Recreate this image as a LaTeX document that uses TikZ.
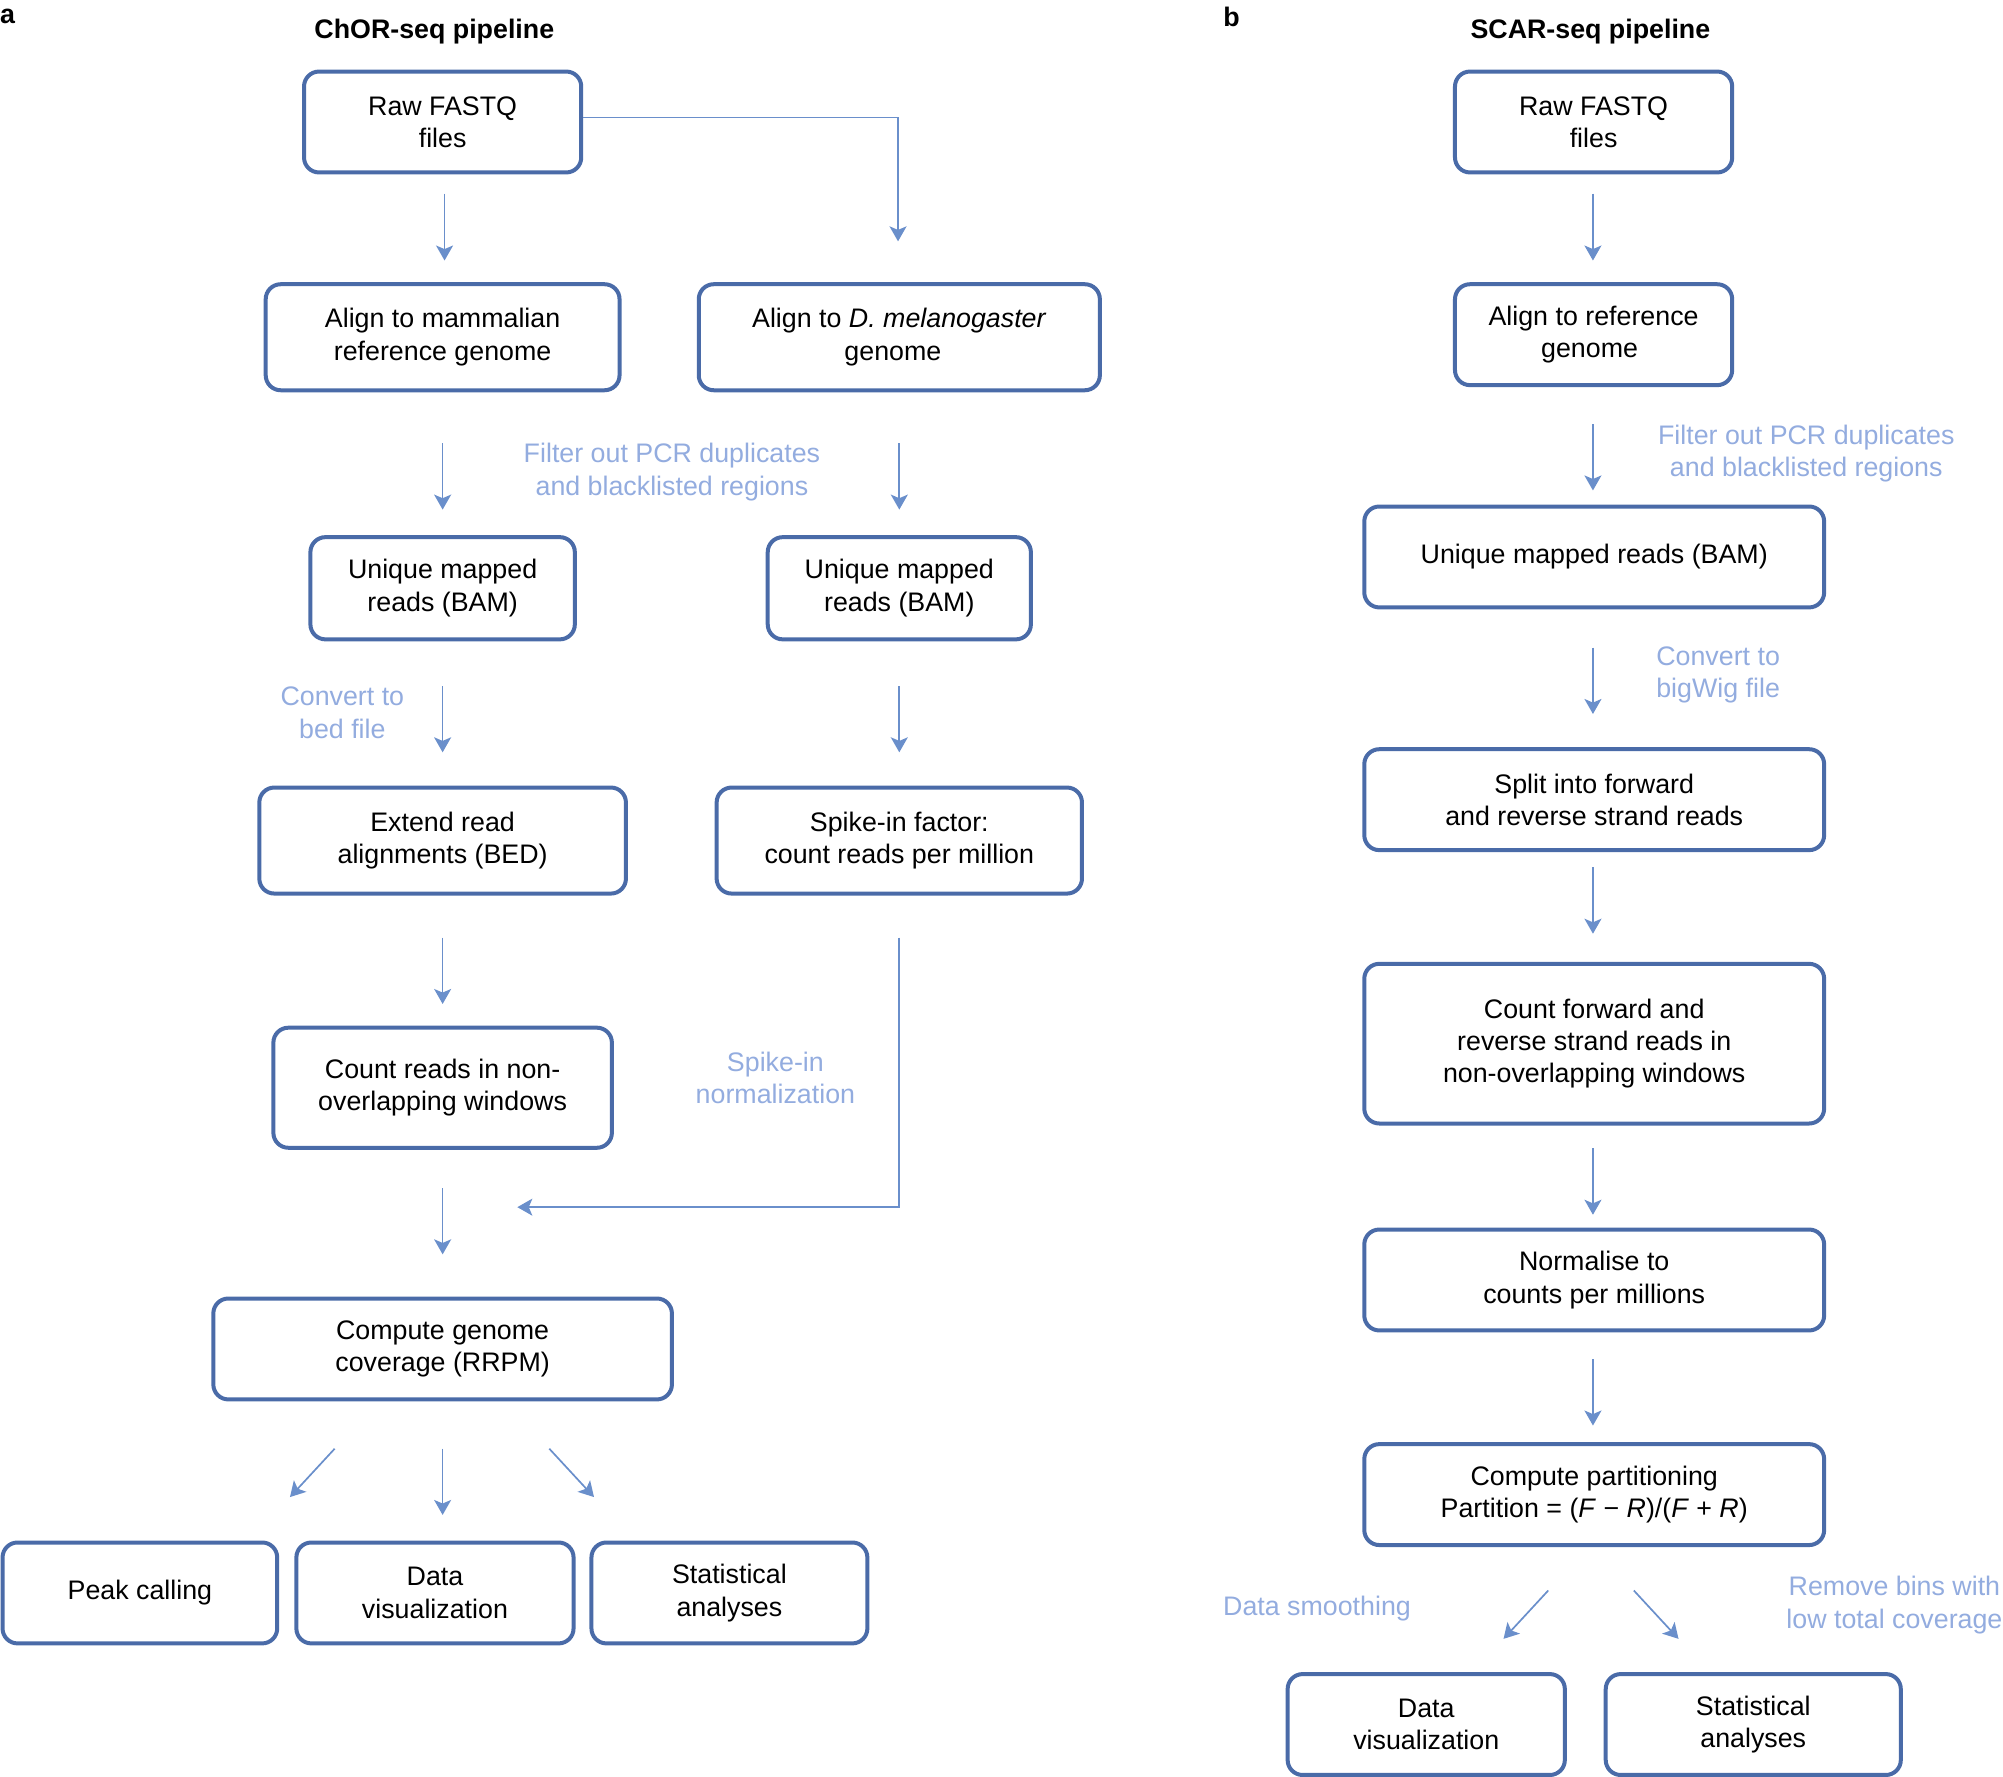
\documentclass[tikz,border=0pt]{standalone}
\usepackage{fontspec}
\setmainfont{Liberation Sans}
\usetikzlibrary{arrows.meta,calc}
\definecolor{boxblue}{HTML}{4A6BA8}
\definecolor{arrowblue}{HTML}{6A8FCB}
\definecolor{labelblue}{HTML}{93ACDF}
\tikzset{
  bx/.style 2 args={draw=boxblue, line width=2pt, rounded corners=7.5pt,
    align=center, inner sep=0pt, text=black,
    font=\fontsize{13.4}{16.2}\selectfont,
    minimum width={#1*0.63875pt}, minimum height={#2*0.63875pt}},
  arr/.style={draw=arrowblue, line width=0.85pt,
    -{Stealth[length=7.5pt,width=8.5pt,inset=1.8pt]}},
  lbl/.style={text=labelblue, align=center, inner sep=0pt,
    font=\fontsize{13.4}{16.2}\selectfont},
  ttl/.style={text=black, inner sep=0pt,
    font=\fontsize{13.4}{16}\selectfont\bfseries},
}
\begin{document}
\begin{tikzpicture}[x=0.63875pt, y=-0.63875pt]
\useasboundingbox (0,0) rectangle (1568,1391);

% ---------- panel a ----------
\node[ttl] (pa) at (6,13) {a};
\node[ttl] (ta) at (340,25) {ChOR-seq pipeline};

\node[bx={217}{79}] (raw) at (346.5,95.5) {Raw FASTQ\\files};
\node[bx={277}{83}] (mam) at (346.5,264) {Align to mammalian\\reference genome};
\node[bx={314}{83}] (dmel) at (704,264) {Align to \textit{D. melanogaster}\\genome\hspace*{6.4pt}};
\node[bx={207}{80}] (uniL) at (346.5,460.5) {Unique mapped\\reads (BAM)};
\node[bx={206}{80}] (uniD) at (704,460.5) {Unique mapped\\reads (BAM)};
\node[bx={287}{83}] (ext) at (346.5,658) {Extend read\\alignments (BED)};
\node[bx={286}{83}] (spike) at (704,658) {Spike-in factor:\\count reads per million};
\node[bx={265}{94}] (cntL) at (346.5,851.5) {Count reads in non-\\overlapping windows};
\node[bx={359}{79}] (cov) at (346.5,1056) {Compute genome\\coverage (RRPM)};
\node[bx={215}{79}] (peak) at (109.5,1247) {Peak calling};
\node[bx={217}{79}] (visL) at (340.5,1247) {Data\\visualization};
\node[bx={216}{79}] (statL) at (571,1247) {Statistical\\analyses};

\node[lbl] (lfilt) at (526,369.5) {Filter out PCR duplicates\\and blacklisted regions};
\node[lbl] (lbed) at (268,558) {Convert to\\bed file};
\node[lbl] (lnorm) at (607,844) {Spike-in\\normalization};

\coordinate (merge) at (405,945);

\draw[arr] ($(raw.south)+(1.5,15)$) -- ($(mam.north)+(1.5,-17)$);
\draw[arr] (raw.east |- 0,92) -| ($(dmel.north)+(-1,-32)$);
\draw[arr] ($(mam.south)+(0,40)$) -- ($(uniL.north)+(0,-20)$);
\draw[arr] ($(dmel.south)+(0,40)$) -- ($(uniD.north)+(0,-20)$);
\draw[arr] ($(uniL.south)+(0,35)$) -- ($(ext.north)+(0,-26)$);
\draw[arr] ($(uniD.south)+(0,35)$) -- ($(spike.north)+(0,-26)$);
\draw[arr] ($(ext.south)+(0,33)$) -- ($(cntL.north)+(0,-17)$);
\draw[arr] ($(spike.south)+(0,33)$) |- (merge);
\draw[arr] ($(cntL.south)+(0,30)$) -- ($(cov.north)+(0,-33)$);
\draw[arr] ($(cov.south)+(-84.5,37)$) -- ($(peak.north)+(117.5,-34)$);
\draw[arr] ($(cov.south)+(0,37)$) -- ($(visL.north)+(6,-20)$);
\draw[arr] ($(cov.south)+(83.5,37)$) -- ($(statL.north)+(-106,-34)$);

% ---------- panel b ----------
\node[ttl] (pb) at (964,13) {b};
\node[ttl] (tb) at (1245,25) {SCAR-seq pipeline};

\node[bx={217}{79}] (rawR) at (1247.5,95.5) {Raw FASTQ\\files};
\node[bx={217}{79}] (aliR) at (1247.5,262) {Align to reference\\genome\hspace*{4pt}};
\node[bx={360}{79}] (uniR) at (1248,436) {Unique mapped reads (BAM)};
\node[bx={360}{79}] (split) at (1248,626) {Split into forward\\and reverse strand reads};
\node[bx={360}{125}] (cntR) at (1248,817) {Count forward and\\reverse strand reads in\\non-overlapping windows};
\node[bx={360}{79}] (norm) at (1248,1002) {Normalise to\\counts per millions};
\node[bx={360}{79}] (part) at (1248,1170) {Compute partitioning\\Partition = (\textit{F} − \textit{R})/(\textit{F} + \textit{R})};
\node[bx={217}{79}] (visR) at (1116.5,1350) {Data\\visualization};
\node[bx={231}{79}] (statR) at (1372.5,1350) {Statistical\\analyses};

\node[lbl] (rfilt) at (1414,355) {Filter out PCR duplicates\\and blacklisted regions};
\node[lbl] (rbig) at (1345,528.5) {Convert to\\bigWig file};
\node[lbl] (rsmo) at (1031,1259) {Data smoothing};
\node[lbl] (rrem) at (1483,1256.5) {Remove bins with\\low total coverage};

\draw[arr] ($(rawR.south)+(-0.5,15)$) -- ($(aliR.north)+(-0.5,-17)$);
\draw[arr] ($(aliR.south)+(-0.5,29)$) -- ($(uniR.north)+(-1,-11)$);
\draw[arr] ($(uniR.south)+(-1,30)$) -- ($(split.north)+(-1,-26)$);
\draw[arr] ($(split.south)+(-1,12)$) -- ($(cntR.north)+(-1,-22)$);
\draw[arr] ($(cntR.south)+(-1,18)$) -- ($(norm.north)+(-1,-10)$);
\draw[arr] ($(norm.south)+(-1,21)$) -- ($(part.north)+(-1,-13)$);
\draw[arr] ($(part.south)+(-36,34)$) -- ($(visR.north)+(60.5,-26)$);
\draw[arr] ($(part.south)+(31,34)$) -- ($(statR.north)+(-58.5,-26)$);
\end{tikzpicture}
\end{document}
